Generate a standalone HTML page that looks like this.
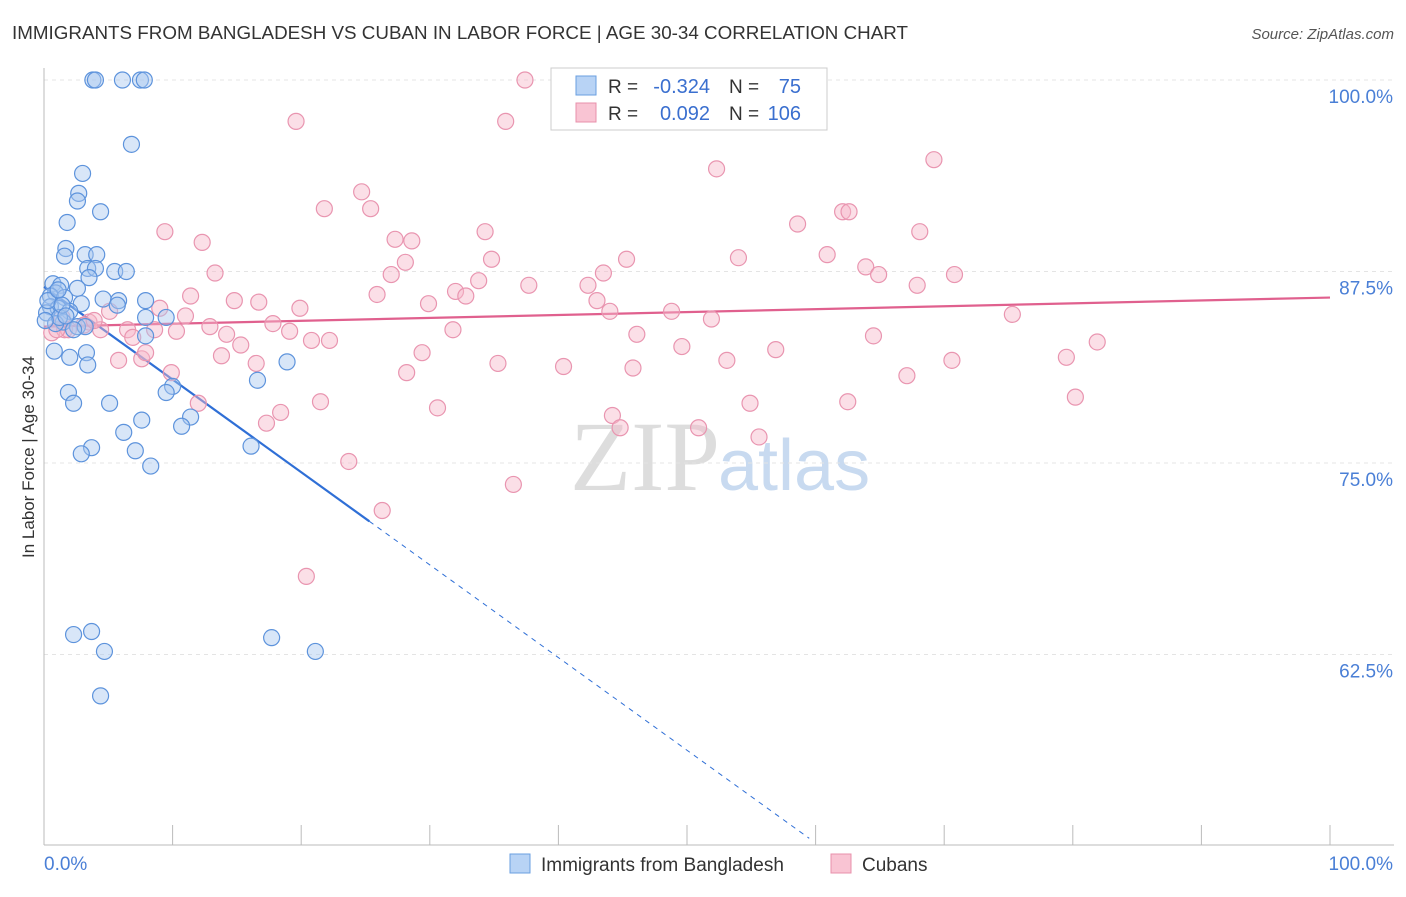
<!DOCTYPE html>
<html><head><meta charset="utf-8"><style>
body{margin:0;background:#fff;font-family:"Liberation Sans",sans-serif}
</style></head><body>
<svg id="c" width="1406" height="892" xmlns="http://www.w3.org/2000/svg" style="font-family:'Liberation Sans',sans-serif">
<text x="12" y="39" font-size="18" fill="#333" textLength="896" lengthAdjust="spacingAndGlyphs">IMMIGRANTS FROM BANGLADESH VS CUBAN IN LABOR FORCE | AGE 30-34 CORRELATION CHART</text>
<text x="1394" y="39" font-size="15" fill="#555" text-anchor="end" font-style="italic">Source: ZipAtlas.com</text>
<text x="720" y="490" font-size="100" fill="#ddd" text-anchor="end" font-family="Liberation Serif">ZIP</text>
<text x="718" y="490" font-size="72" fill="#c8daf0">atlas</text>
<text transform="translate(34,457) rotate(-90)" font-size="17" fill="#333" text-anchor="middle">In Labor Force | Age 30-34</text>
<g id="grid"></g><g id="axes"></g><g id="trend"></g><g id="pts"></g>
<g>
<rect x="551" y="68" width="276" height="62" fill="#fff" stroke="#ccc"/>
<rect x="576" y="76" width="20" height="19" fill="#b8d3f5" stroke="#6a9fe0"/>
<rect x="576" y="103" width="20" height="19" fill="#f9c4d3" stroke="#e890ab"/>
<text x="608" y="93" font-size="19" fill="#333">R =</text>
<text x="710" y="93" font-size="20" fill="#3a6fcf" text-anchor="end">-0.324</text>
<text x="729" y="93" font-size="19" fill="#333">N =</text>
<text x="801" y="93" font-size="20" fill="#3a6fcf" text-anchor="end">75</text>
<text x="608" y="120" font-size="19" fill="#333">R =</text>
<text x="710" y="120" font-size="20" fill="#3a6fcf" text-anchor="end">0.092</text>
<text x="729" y="120" font-size="19" fill="#333">N =</text>
<text x="801" y="120" font-size="20" fill="#3a6fcf" text-anchor="end">106</text>
</g>
<g>
<rect x="510" y="854" width="20" height="19" fill="#b8d3f5" stroke="#6a9fe0"/>
<text x="541" y="871" font-size="19" fill="#333">Immigrants from Bangladesh</text>
<rect x="831" y="854" width="20" height="19" fill="#f9c4d3" stroke="#e890ab"/>
<text x="862" y="871" font-size="19" fill="#333">Cubans</text>
</g>
</svg>
<script>
const blueX=[3.8,4.0,6.1,7.5,7.8,6.8,3.0,2.7,2.6,4.4,1.8,1.7,1.6,3.2,4.1,3.4,4.0,5.5,6.4,3.5,0.7,1.3,2.6,0.9,0.5,1.6,4.6,5.8,7.9,2.9,0.5,1.1,2.0,0.2,5.7,7.9,9.5,1.5,0.9,2.6,3.2,2.3,7.9,0.8,2.0,3.3,3.4,16.6,18.9,1.9,2.3,5.1,10.0,9.5,7.6,6.2,11.4,10.7,3.7,2.9,7.1,8.3,16.1,2.3,3.7,4.7,17.7,21.1,4.4,1.2,0.3,1.4,0.1,1.1,1.7];
const blueY=[100,100,100,100,100,95.8,93.9,92.6,92.1,91.4,90.7,89.0,88.5,88.6,88.6,87.7,87.7,87.5,87.5,87.1,86.7,86.6,86.4,86.1,85.9,85.8,85.7,85.6,85.6,85.4,85.2,85.1,84.9,84.8,85.3,84.5,84.5,84.2,84.1,83.9,83.9,83.7,83.3,82.3,81.9,82.2,81.4,80.4,81.6,79.6,78.9,78.9,80.0,79.6,77.8,77.0,78.0,77.4,76.0,75.6,75.8,74.8,76.1,63.8,64.0,62.7,63.6,62.7,59.8,84.5,85.6,85.3,84.3,86.3,84.6];
const pinkX=[37.4,19.6,35.9,69.2,52.3,24.7,21.8,25.4,62.1,62.6,58.6,9.4,34.3,68.1,12.3,27.3,28.6,54.0,45.3,34.8,60.9,28.1,63.9,64.9,13.3,27.0,43.5,70.8,42.3,67.9,37.7,33.8,32.0,32.8,25.9,11.4,14.8,16.7,29.9,43.0,19.9,44.0,48.8,75.3,51.9,9.0,11.0,5.1,3.5,1.4,0.6,1.6,4.4,6.5,10.3,8.6,12.9,17.8,14.2,19.1,20.8,22.2,15.3,6.9,31.8,46.1,64.5,49.6,56.9,81.9,79.5,70.6,53.1,29.4,13.8,5.8,7.6,16.5,35.3,40.4,45.8,28.2,9.9,67.1,21.5,80.2,62.5,54.9,30.6,12.0,18.4,44.2,17.3,44.8,50.9,55.6,23.7,36.5,26.3,20.4,1.9,3.1,7.9,3.9,1.0];
const pinkY=[100,97.3,97.3,94.8,94.2,92.7,91.6,91.6,91.4,91.4,90.6,90.1,90.1,90.1,89.4,89.6,89.5,88.4,88.3,88.3,88.6,88.1,87.8,87.3,87.4,87.3,87.4,87.3,86.6,86.6,86.6,86.9,86.2,85.9,86.0,85.9,85.6,85.5,85.4,85.6,85.1,84.9,84.9,84.7,84.4,85.1,84.6,84.9,84.2,84.5,83.5,83.7,83.7,83.7,83.6,83.7,83.9,84.1,83.4,83.6,83.0,83.0,82.7,83.2,83.7,83.4,83.3,82.6,82.4,82.9,81.9,81.7,81.7,82.2,82.0,81.7,81.8,81.5,81.5,81.3,81.2,80.9,80.9,80.7,79.0,79.3,79.0,78.9,78.6,78.9,78.3,78.1,77.6,77.3,77.3,76.7,75.1,73.6,71.9,67.6,83.7,84.0,82.2,84.3,83.7];
const yTicks=[100,87.5,75,62.5];
const yTickLabels=["100.0%","87.5%","75.0%","62.5%"];
const blueTrend=[86.5,-0.605]; // intercept, slope
const pinkTrend=[83.9,0.019];
const NS="http://www.w3.org/2000/svg";
const X=v=>44+v*12.86, Y=v=>80+(100-v)*15.32;
function mk(tag,attrs,parent){const e=document.createElementNS(NS,tag);for(const k in attrs)e.setAttribute(k,attrs[k]);parent.appendChild(e);return e;}
const grid=document.getElementById('grid'),axes=document.getElementById('axes'),trend=document.getElementById('trend'),pts=document.getElementById('pts');
yTicks.forEach((t,i)=>{
 const l=mk('line',{x1:44,x2:1394,y1:Y(t),y2:Y(t),stroke:'#e4e4e4','stroke-dasharray':'4,4'},grid);
 
 
 const tx=mk('text',{x:1393,y:Y(t)+23,'font-size':19,fill:'#4a7fd6','text-anchor':'end'},axes);
 tx.textContent=yTickLabels[i];
 
 
});
const ax=mk('line',{x1:44,x2:44,y1:68,y2:845,stroke:'#bbb'},axes);


const bx=mk('line',{x1:44,x2:1394,y1:845,y2:845,stroke:'#bbb'},axes);


for(let i=0;i<=10;i++){const t=mk('line',{x1:X(i*10),x2:X(i*10),y1:825,y2:845,stroke:'#bbb'},axes);
 
 }
const x0=mk('text',{x:44,y:870,'font-size':19,fill:'#4a7fd6'},axes);x0.textContent='0.0%';


const x1=mk('text',{x:1393,y:870,'font-size':19,fill:'#4a7fd6','text-anchor':'end'},axes);x1.textContent='100.0%';


function addPts(xs,ys,fill,stroke,name){xs.forEach((x,i)=>{const c=mk('circle',{cx:X(x),cy:Y(ys[i]),r:8,fill:fill,'fill-opacity':0.45,stroke:stroke,'stroke-width':1.2},pts);
 
 });}
addPts(pinkX,pinkY,'#f7b8ca','#e995b0','cuban-point');
addPts(blueX,blueY,'#a9c8f0','#5d93dc','bangladesh-point');
const by=x=>blueTrend[0]+blueTrend[1]*x, py=x=>pinkTrend[0]+pinkTrend[1]*x;
const b1=mk('line',{x1:X(0),y1:Y(by(0)),x2:X(25.3),y2:Y(by(25.3)),stroke:'#2f6fd6','stroke-width':2.2},trend);


const xe=(50.5-blueTrend[0])/blueTrend[1];
const b2=mk('line',{x1:X(25.3),y1:Y(by(25.3)),x2:X(xe),y2:Y(by(xe)),stroke:'#2f6fd6','stroke-width':1,'stroke-dasharray':'5,5'},trend);


const p1=mk('line',{x1:X(0),y1:Y(py(0)),x2:X(100),y2:Y(py(100)),stroke:'#e0608e','stroke-width':2.2},trend);


</script>
</body></html>
